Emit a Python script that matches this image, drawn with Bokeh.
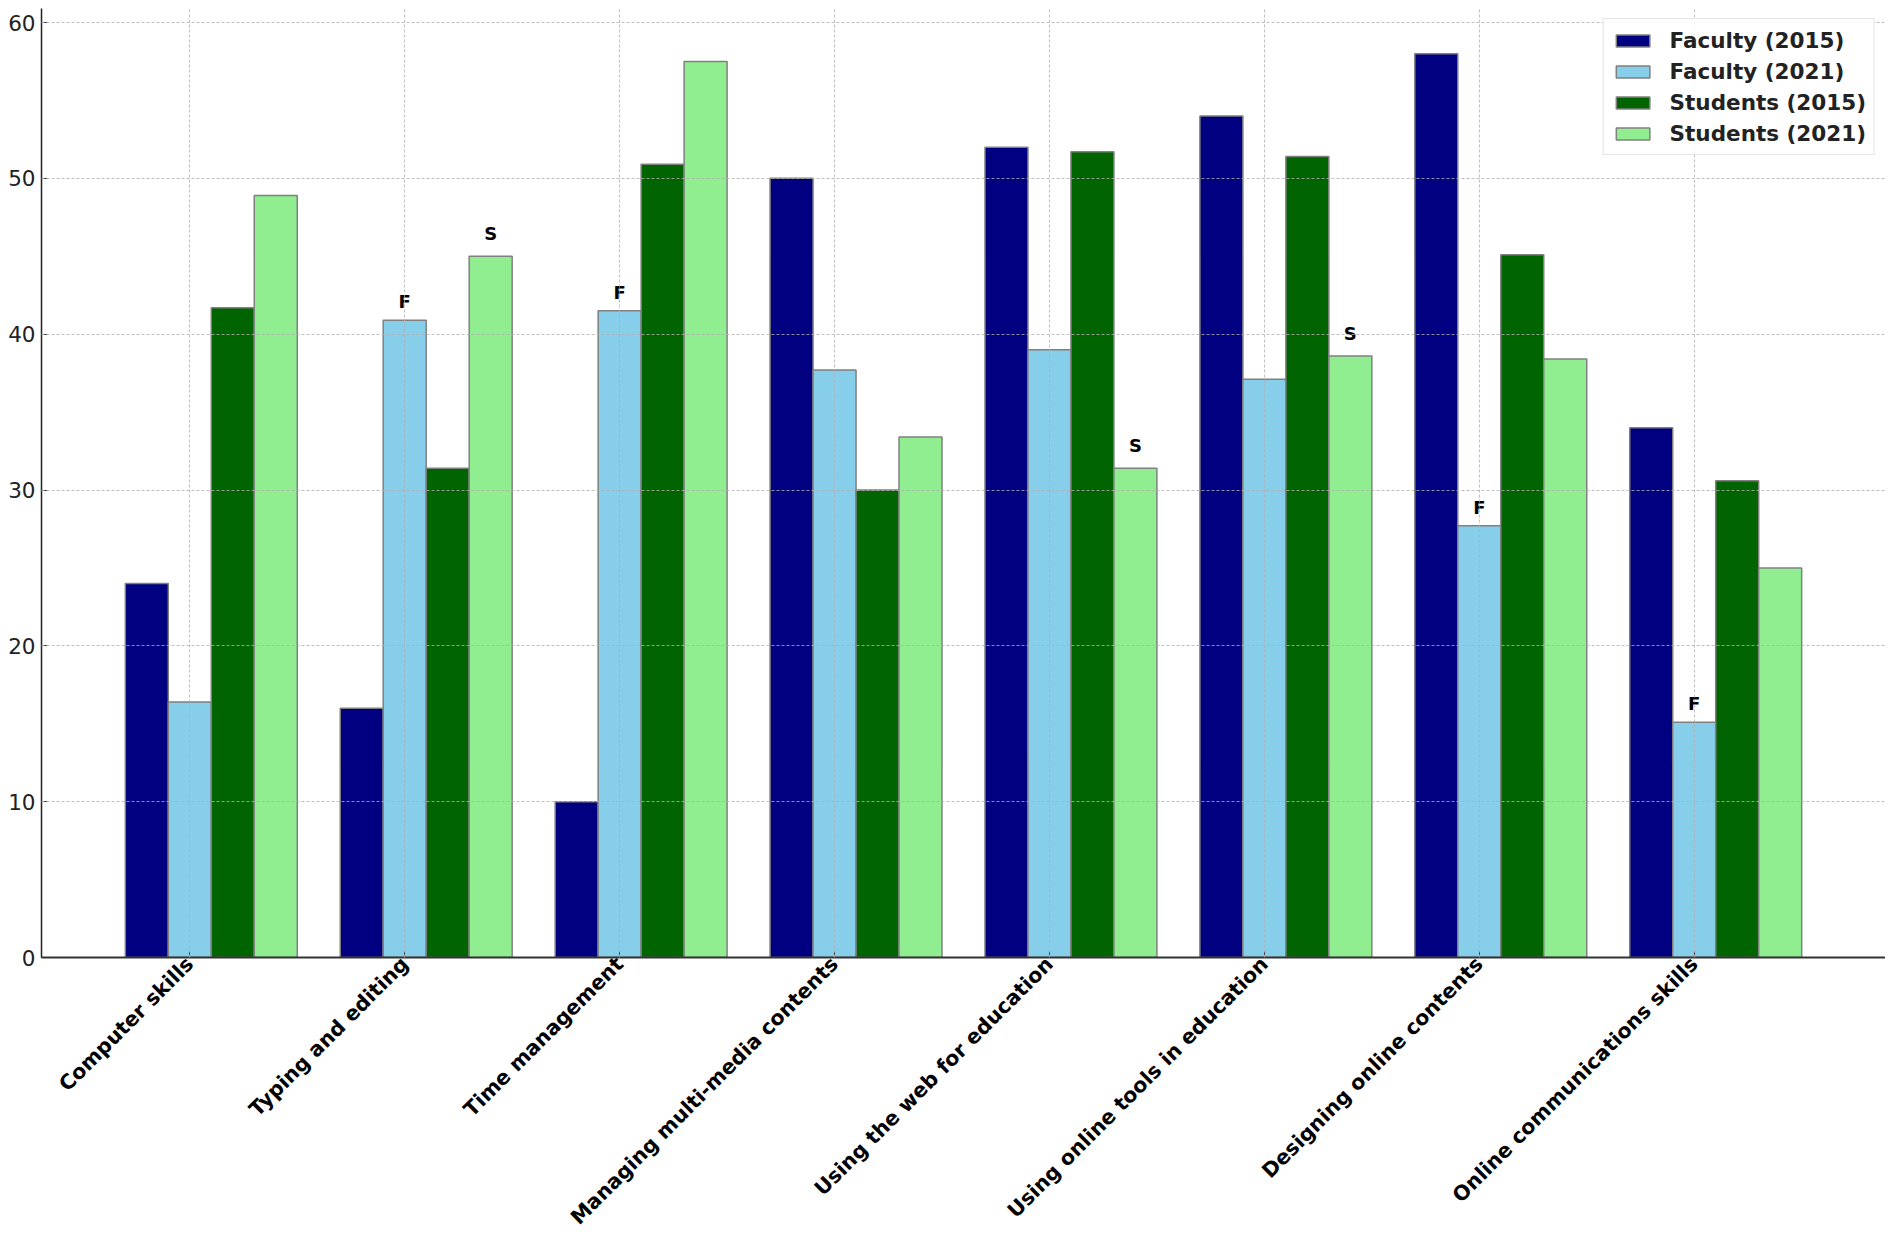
import numpy as np
from bokeh.plotting import figure
from bokeh.models import ColumnDataSource, Range1d, FixedTicker
from bokeh.core.properties import value
from bokeh.embed import file_html
from bokeh.resources import INLINE

categories = [
    "Computer skills",
    "Typing and editing",
    "Time management",
    "Managing multi-media contents",
    "Using the web for education",
    "Using online tools in education",
    "Designing online contents",
    "Online communications skills",
]
faculty_2015 = [24, 16, 10, 50, 52, 54, 58, 34]
faculty_2021 = [16.4, 40.9, 41.5, 37.7, 39.0, 37.1, 27.7, 15.1]
students_2015 = [41.7, 31.4, 50.9, 30.0, 51.7, 51.4, 45.1, 30.6]
students_2021 = [48.9, 45.0, 57.5, 33.4, 31.4, 38.6, 38.4, 25.0]
series_names = ["Faculty (2015)", "Faculty (2021)", "Students (2015)", "Students (2021)"]
faculty_2021_marks = ["", "F", "F", "", "", "", "F", "F"]
students_2021_marks = ["", "S", "", "", "S", "S", "", ""]
y_ticks = [0, 10, 20, 30, 40, 50, 60]

colors = ["#000080", "#87CEEB", "#006400", "#90EE90"]
offsets = [-0.2, 0.0, 0.2, 0.4]
bar_w = 0.2
FONT = "DejaVu Sans"

idx = np.arange(len(categories))

p = figure(
    width=1885, height=1240,
    x_range=Range1d(-0.69, 7.89), y_range=Range1d(0, 60.9),
    output_backend="svg", toolbar_location=None,
    min_border_left=41, min_border_right=0, min_border_top=8, min_border_bottom=283,
)
p.outline_line_color = None
p.background_fill_color = "white"
p.border_fill_color = "white"

all_series = [faculty_2015, faculty_2021, students_2015, students_2021]
for vals, name, col, off in zip(all_series, series_names, colors, offsets):
    src = ColumnDataSource(dict(x=idx + off, top=vals))
    p.vbar(x="x", top="top", bottom=0, width=bar_w, source=src,
           fill_color=col, line_color="#808080", line_width=1.5,
           legend_label=name)

# annotations
ax, ay, at = [], [], []
for i, m in enumerate(faculty_2021_marks):
    if m:
        ax.append(i + offsets[1]); ay.append(faculty_2021[i] + 0.5); at.append(m)
for i, m in enumerate(students_2021_marks):
    if m:
        ax.append(i + offsets[3]); ay.append(students_2021[i] + 0.8); at.append(m)
p.text(x=ax, y=ay, text=at, text_font=value(FONT), text_font_style="bold",
       text_font_size="18px", text_align="center", text_baseline="bottom",
       text_color="black")

# axes
p.xaxis.ticker = FixedTicker(ticks=list(range(len(categories))))
p.xaxis.major_label_overrides = {int(i): c for i, c in enumerate(categories)}
p.xaxis.major_label_orientation = np.pi / 4
p.xaxis.major_label_text_font = FONT
p.xaxis.major_label_text_font_style = "bold"
p.xaxis.major_label_text_font_size = "20.5px"
p.xaxis.major_label_text_color = "black"
p.xaxis.major_label_standoff = 3
p.xaxis.axis_line_color = "#333333"
p.xaxis.axis_line_width = 2
p.xaxis.major_tick_in = 6
p.xaxis.major_tick_out = 0
p.xaxis.major_tick_line_color = "#333333"
p.xaxis.minor_tick_line_color = None

p.yaxis.ticker = FixedTicker(ticks=y_ticks)
p.yaxis.major_label_text_font = FONT
p.yaxis.major_label_text_font_size = "21.5px"
p.yaxis.major_label_text_color = "#222222"
p.yaxis.major_label_standoff = 6
p.yaxis.axis_line_color = "#222222"
p.yaxis.axis_line_width = 1.5
p.yaxis.major_tick_in = 6
p.yaxis.major_tick_out = 0
p.yaxis.major_tick_line_color = "#333333"
p.yaxis.minor_tick_line_color = None

# grid
p.xgrid.ticker = FixedTicker(ticks=list(range(len(categories))))
p.ygrid.ticker = FixedTicker(ticks=y_ticks)
for g in (p.xgrid, p.ygrid):
    g.grid_line_color = "#b0b0b0"
    g.grid_line_alpha = 0.8
    g.grid_line_width = 1
    g.grid_line_dash = "3 2"
    g.level = "guide"

# legend
lg = p.legend[0]
lg.location = "top_right"
lg.margin = 10
lg.padding = 8
lg.spacing = 5
lg.label_height = 26
lg.glyph_width = 42
lg.glyph_height = 15
lg.label_standoff = 16
lg.label_text_font = FONT
lg.label_text_font_style = "bold"
lg.label_text_font_size = "21.5px"
lg.label_text_color = "#222222"
lg.border_line_color = "#cccccc"
lg.border_line_width = 1
lg.background_fill_color = "white"
lg.background_fill_alpha = 0.9

open("out.html", "w").write(file_html(p, INLINE))
